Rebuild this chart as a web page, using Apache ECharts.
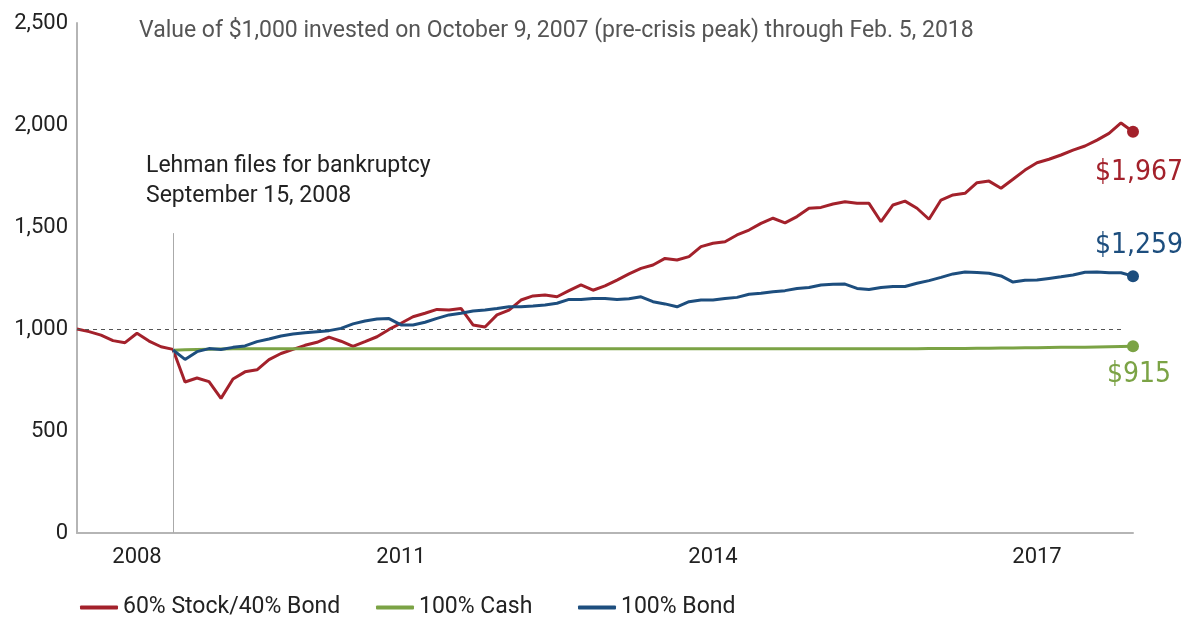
<!DOCTYPE html>
<html>
<head>
<meta charset="utf-8">
<title>Value of $1,000 invested</title>
<script src="https://cdn.jsdelivr.net/npm/echarts@6/dist/echarts.min.js"></script>
<style>
  html, body { margin: 0; padding: 0; background: #fff; }
  #main { width: 1188px; height: 617px; }
</style>
</head>
<body>
<div id="main"></div>
<script>
// values, one point every ~43 days from Oct 9, 2007
var mixed = [
  1000, 987, 970, 943, 933, 979, 941, 913, 900, 740,
  760, 742, 660, 755, 790, 800, 850, 880, 900, 920,
  935, 960, 940, 915, 938, 962, 998, 1028, 1060, 1077,
  1096, 1093, 1101, 1020, 1010, 1069, 1093, 1142, 1162, 1167,
  1158, 1188, 1216, 1190, 1211, 1240, 1270, 1297, 1314, 1346,
  1338, 1355, 1404, 1420, 1428, 1461, 1485, 1518, 1543, 1520,
  1551, 1592, 1596, 1613, 1624, 1616, 1616, 1526, 1608, 1627,
  1592, 1538, 1632, 1657, 1665, 1717, 1725, 1690, 1734, 1779,
  1815, 1832, 1853, 1877, 1897, 1926, 1959, 2010, 1967
];
var bond = [
  null, null, null, null, null, null, null, null, 897, 851,
  889, 904, 900, 910, 917, 938, 951, 966, 975, 982,
  987, 992, 1003, 1025, 1039, 1049, 1051, 1020, 1020, 1033,
  1052, 1069, 1077, 1088, 1093, 1100, 1109, 1109, 1113, 1118,
  1126, 1145, 1145, 1150, 1150, 1145, 1148, 1158, 1134, 1123,
  1109, 1134, 1142, 1142, 1149, 1155, 1170, 1175, 1183, 1188,
  1199, 1203, 1216, 1219, 1220, 1199, 1194, 1203, 1208, 1208,
  1224, 1237, 1253, 1270, 1279, 1277, 1273, 1260, 1230, 1239,
  1240, 1248, 1256, 1265, 1278, 1280, 1276, 1276, 1259
];
var cash = [
  null, null, null, null, null, null, null, null, 896, 898,
  900, 901, 902, 903, 903, 903, 903, 903, 903, 903,
  903, 903, 903, 903, 903, 903, 903, 903, 903, 903,
  903, 903, 903, 903, 903, 903, 903, 903, 903, 903,
  903, 903, 903, 903, 903, 903, 903, 903, 903, 903,
  903, 903, 903, 903, 903, 903, 903, 903, 903, 903,
  903, 903, 903, 903, 903, 903, 903, 903, 903, 903,
  903, 904, 904, 905, 905, 906, 906, 907, 907, 908,
  908, 909, 910, 910, 911, 912, 913, 914, 915
];
var seriesNames = ["60% Stock/40% Bond", "100% Cash", "100% Bond"];
var endLabels = ["$1,967", "$915", "$1,259"];
var yearTicks = { 5: "2008", 27: "2011", 53: "2014", 80: "2017" };
var lehmanIndex = 8;

var RED = "#a3212b";
var GREEN = "#7ba345";
var BLUE = "#1d4e7e";
var FONT = "Roboto, 'Liberation Sans', sans-serif";
var NARROW = "'Liberation Sans Narrow', 'DejaVu Sans Condensed', Roboto, sans-serif";

// dates for the category axis
var dates = [];
var start = new Date(2007, 9, 9);
for (var i = 0; i < mixed.length; i++) {
  var d = new Date(start.getTime() + i * 42.75 * 86400000);
  dates.push(d.toISOString().slice(0, 10));
}

function lastPoint(values, color, text, pos, offset) {
  var n = values.length - 1;
  return {
    symbol: "circle",
    symbolSize: 0,
    data: [{
      coord: [dates[n], values[n]],
      symbol: "circle",
      symbolSize: 12,
      itemStyle: { color: color },
      label: {
        show: true,
        formatter: text,
        position: pos,
        offset: offset,
        color: color,
        fontSize: 28,
        fontFamily: NARROW
      }
    }]
  };
}

var chartDom = document.getElementById("main");
var myChart = echarts.init(chartDom);

var option = {
  animation: false,
  backgroundColor: "#fff",
  title: {
    text: "Value of $1,000 invested on October 9, 2007 (pre-crisis peak) through Feb. 5, 2018",
    left: 134,
    top: 15,
    textStyle: { color: "#555", fontSize: 23, fontWeight: "normal", fontFamily: FONT }
  },
  legend: [
    { data: [seriesNames[0]], left: 75 },
    { data: [seriesNames[1]], left: 371 },
    { data: [seriesNames[2]], left: 573 }
  ].map(function (l) {
    l.top = 591;
    l.icon = "roundRect";
    l.itemWidth = 38;
    l.itemHeight = 4;
    l.textStyle = { color: "#222", fontSize: 23, fontFamily: FONT };
    return l;
  }),
  grid: { left: 77, right: 55, top: 23, bottom: 84 },
  xAxis: {
    type: "category",
    data: dates,
    boundaryGap: false,
    axisLine: { lineStyle: { color: "#b5b5b5", width: 2 } },
    axisTick: { show: false },
    splitLine: { show: false },
    axisLabel: {
      interval: function (idx) { return yearTicks[idx] !== undefined; },
      formatter: function (val, idx) { return yearTicks[idx] || ""; },
      color: "#222",
      fontSize: 22,
      fontFamily: FONT,
      margin: 13
    }
  },
  yAxis: {
    type: "value",
    min: 0,
    max: 2500,
    interval: 500,
    axisLine: { show: true, lineStyle: { color: "#b5b5b5", width: 2 } },
    axisTick: { show: false },
    splitLine: { show: false },
    axisLabel: {
      formatter: function (v) { return v.toLocaleString("en-US"); },
      color: "#222",
      fontSize: 22,
      fontFamily: FONT,
      margin: 9
    }
  },
  series: [
    {
      name: seriesNames[0],
      type: "line",
      data: mixed,
      showSymbol: false,
      lineStyle: { color: RED, width: 3 },
      itemStyle: { color: RED },
      z: 3,
      markLine: {
        silent: true,
        symbol: ["none", "none"],
        label: { show: false },
        data: [
          [
            { coord: [dates[0], 1000], lineStyle: { color: "#555", width: 1, type: [4, 4] } },
            { coord: [dates[87], 1000] }
          ],
          [
            { coord: [dates[lehmanIndex], 0], lineStyle: { color: "#aaa", width: 1, type: "solid" } },
            { coord: [dates[lehmanIndex], 1470] }
          ]
        ]
      },
      markPoint: lastPoint(mixed, RED, endLabels[0], "bottom", [6, 16])
    },
    {
      name: seriesNames[1],
      type: "line",
      data: cash,
      showSymbol: false,
      lineStyle: { color: GREEN, width: 3 },
      itemStyle: { color: GREEN },
      z: 4,
      markPoint: lastPoint(cash, GREEN, endLabels[1], "bottom", [6, 3])
    },
    {
      name: seriesNames[2],
      type: "line",
      data: bond,
      showSymbol: false,
      lineStyle: { color: BLUE, width: 3 },
      itemStyle: { color: BLUE },
      z: 5,
      markPoint: lastPoint(bond, BLUE, endLabels[2], "top", [6, -5])
    }
  ]
};

myChart.setOption(option);

// annotation next to the Lehman line, placed from the axis scales
var lineTop = myChart.convertToPixel({ xAxisIndex: 0, yAxisIndex: 0 }, [dates[lehmanIndex], 1470]);
myChart.setOption({
  graphic: [{
    type: "text",
    left: lineTop[0] - 27,
    top: lineTop[1] - 82,
    style: {
      text: "Lehman files for bankruptcy\nSeptember 15, 2008",
      fill: "#222",
      font: "23px " + FONT,
      lineHeight: 30
    }
  }]
});
</script>
</body>
</html>
